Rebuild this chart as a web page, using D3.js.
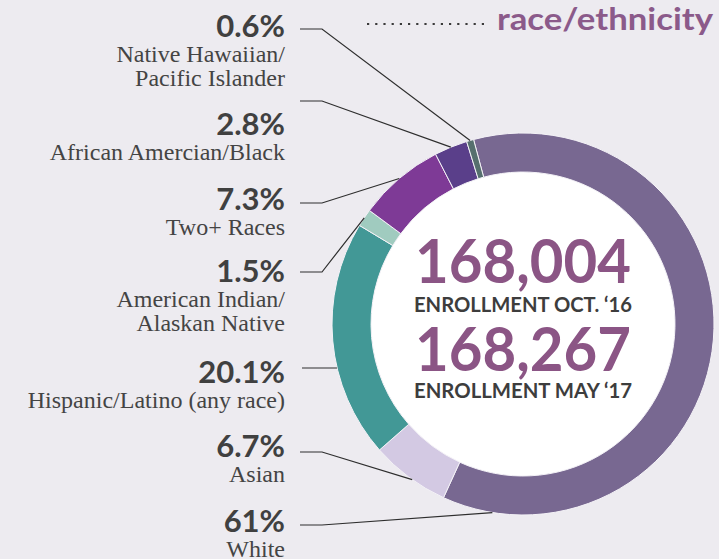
<!DOCTYPE html>
<html>
<head>
<meta charset="utf-8">
<script src="https://cdn.jsdelivr.net/npm/d3@7"></script>
<style>
  html, body { margin: 0; padding: 0; background: #edebf0; }
  svg { display: block; }
</style>
</head>
<body>
<div id="chart"></div>
<script>
// data, clockwise from the top of the ring
const categories = ["White", "Asian", "Hispanic/Latino (any race)", "American Indian/\nAlaskan Native",
    "Two+ Races", "African Amercian/Black", "Native Hawaiian/\nPacific Islander"];
const percents = [61, 6.7, 20.1, 1.5, 7.3, 2.8, 0.6];
const pctLabels = ["61%", "6.7%", "20.1%", "1.5%", "7.3%", "2.8%", "0.6%"];
const colors = ["#786891", "#d3c9e3", "#429896", "#a0cbbf", "#7e3a96", "#5a3f8a", "#566f6e"];
const totals = ["168,004", "168,267"];
const totalLabels = ["ENROLLMENT OCT. \u201816", "ENROLLMENT MAY \u201817"];

// layout
const width = 719, height = 559;
const cx = 523, cy = 324, outerR = 191, innerR = 152;
const startDeg = -15;
const labelX = 285;
const labelY = [532, 457, 383, 282, 210, 135, 37];     // baseline of the percent
const leaderY = [525, 452, 368, 272, 203, 101, 29];
const anchorAt = [0.93, 0.45, null, 0.5, 0.5, 0.5, 0.5]; // where the leader meets the arc

const data = categories.map((c, i) => ({ name: c, value: percents[i], pct: pctLabels[i], color: colors[i], i: i }));

const svg = d3.select("#chart")
    .append("svg")
    .attr("width", width)
    .attr("height", height);

svg.append("rect")
    .attr("width", width)
    .attr("height", height)
    .attr("fill", "#edebf0");

// title
svg.append("line")
    .attr("x1", 367).attr("x2", 485)
    .attr("y1", 24).attr("y2", 24)
    .attr("stroke", "#3a3a3a")
    .attr("stroke-width", 2.2)
    .attr("stroke-dasharray", "2.2,6");

svg.append("text")
    .attr("x", 497)
    .attr("y", 30)
    .attr("font-family", "Lato, sans-serif")
    .attr("font-weight", 700)
    .attr("font-size", "30px")
    .attr("fill", "#8b5a8a")
    .attr("textLength", 216)
    .attr("lengthAdjust", "spacingAndGlyphs")
    .text("race/ethnicity");

// ring
const pie = d3.pie()
    .sort(null)
    .value(d => d.value)
    .startAngle(startDeg * Math.PI / 180)
    .endAngle(startDeg * Math.PI / 180 + 2 * Math.PI);

const arcs = pie(data);

const arc = d3.arc()
    .innerRadius(innerR)
    .outerRadius(outerR);

const g = svg.append("g")
    .attr("transform", `translate(${cx},${cy})`);

g.append("circle")
    .attr("r", innerR)
    .attr("fill", "#ffffff");

g.selectAll("path")
    .data(arcs)
    .join("path")
    .attr("d", arc)
    .attr("fill", d => d.data.color)
    .attr("stroke", "#f4f2f7")
    .attr("stroke-width", 1);

// leader lines
const leaders = svg.append("g");
arcs.forEach((d, i) => {
    const y = leaderY[i];
    let pts;
    if (anchorAt[i] === null) {
        const ex = cx - Math.sqrt(outerR * outerR - (y - cy) * (y - cy));
        pts = [[302, y], [ex, y]];
    } else {
        const a = d.startAngle + (d.endAngle - d.startAngle) * anchorAt[i];
        const ex = cx + outerR * Math.sin(a), ey = cy - outerR * Math.cos(a);
        pts = [[300, y], [322, y], [ex, ey]];
    }
    leaders.append("path")
        .attr("d", d3.line()(pts))
        .attr("fill", "none")
        .attr("stroke", "#2e2e2e")
        .attr("stroke-width", 1.2);
});

// labels
const labels = svg.append("g")
    .selectAll("g")
    .data(data)
    .join("g");

labels.append("text")
    .attr("x", labelX)
    .attr("y", d => labelY[d.i])
    .attr("text-anchor", "end")
    .attr("font-family", "Lato, sans-serif")
    .attr("font-weight", 700)
    .attr("font-size", "31px")
    .attr("fill", "#404040")
    .text(d => d.pct);

labels.each(function (d) {
    const t = d3.select(this).append("text")
        .attr("x", labelX)
        .attr("y", labelY[d.i] + 25)
        .attr("text-anchor", "end")
        .attr("font-family", "'Liberation Serif', serif")
        .attr("font-size", "24px")
        .attr("fill", "#444");
    d.name.split("\n").forEach((line, k) => {
        t.append("tspan")
            .attr("x", labelX)
            .attr("dy", k === 0 ? 0 : 24)
            .text(line);
    });
});

// center totals
const center = svg.append("g")
    .attr("text-anchor", "middle")
    .attr("font-family", "Lato, sans-serif")
    .attr("font-weight", 700);

totals.forEach((t, i) => {
    center.append("text")
        .attr("x", cx)
        .attr("y", 283 + i * 88)
        .attr("font-size", "62px")
        .attr("fill", "#8b5585")
        .attr("textLength", 216)
        .attr("lengthAdjust", "spacingAndGlyphs")
        .text(t);
    center.append("text")
        .attr("x", cx)
        .attr("y", 312 + i * 86)
        .attr("font-size", "21px")
        .attr("fill", "#3d3d3d")
        .attr("textLength", 218)
        .attr("lengthAdjust", "spacingAndGlyphs")
        .text(totalLabels[i]);
});
</script>
</body>
</html>
